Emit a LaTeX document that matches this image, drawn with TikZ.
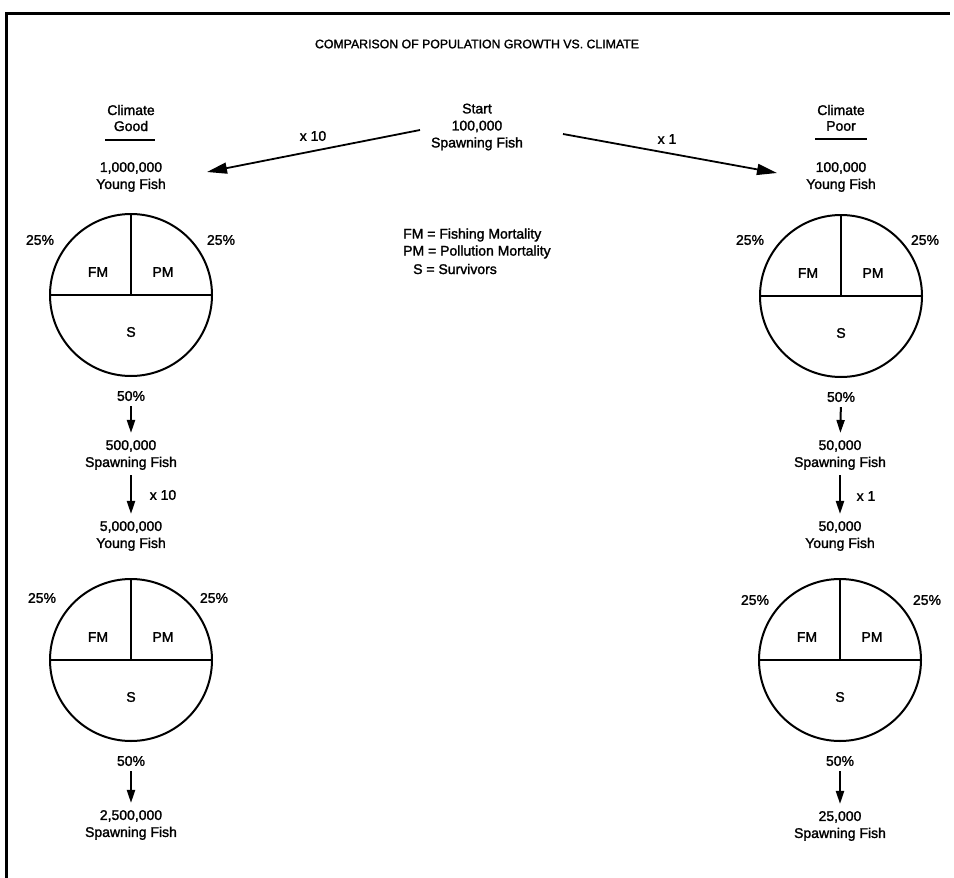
\documentclass[tikz,border=0pt]{standalone}
\usepackage{fontspec}
\setmainfont[UprightFeatures={FakeBold=1.6}]{Liberation Sans}
\usetikzlibrary{arrows.meta}
\begin{document}
\begin{tikzpicture}[x=1pt,y=-1pt,
  txt/.style={font=\fontsize{14}{17}\selectfont, align=center, inner sep=0pt},
  ttl/.style={font=\fontsize{12.3}{15}\selectfont, inner sep=0pt},
  bigarrow/.style={line width=1.8pt, -{Triangle[length=20pt,width=11pt]}},
  downarrow/.style={line width=2pt, -{Triangle[length=13pt,width=8pt]}, shorten <=5pt, shorten >=7pt},
  frameline/.style={line width=3pt},
  rule/.style={line width=1.6pt},
  pieline/.style={line width=2pt}]
\useasboundingbox (0,0) rectangle (954,878);
% frame
\coordinate (fa) at (6,878);
\coordinate (fb) at (6,13);
\coordinate (fc) at (950,13);
\draw[frameline] (fa) -- (fb) -- (fc);
% title
\node[ttl] (title) at (477,44) {COMPARISON OF POPULATION GROWTH VS. CLIMATE};
% headers
\node[txt] (cg1) at (131,110) {Climate};
\node[txt] (cg2) at (131,126) {Good};
\coordinate (ug1) at (105,140); \coordinate (ug2) at (155,140);
\draw[rule] (ug1) -- (ug2);
\node[txt] (cp1) at (841,110) {Climate};
\node[txt] (cp2) at (841,126) {Poor};
\coordinate (up1) at (815,139); \coordinate (up2) at (867,139);
\draw[rule] (up1) -- (up2);
% start
\node[txt] (start) at (477,127) {Start\\100,000\\Spawning Fish};
\coordinate (la) at (420,130); \coordinate (lb) at (207,172);
\coordinate (ra) at (563,134); \coordinate (rb) at (777,173);
\draw[bigarrow] (la) -- (lb);
\draw[bigarrow] (ra) -- (rb);
\node[txt] (m10) at (313,136) {x 10};
\node[txt] (m1) at (667,139) {x 1};
% legend
\node[txt, anchor=west] (lg1) at (403,235) {FM = Fishing Mortality};
\node[txt, anchor=west] (lg2) at (403,252) {PM = Pollution Mortality};
\node[txt, anchor=west] (lg3) at (413,269) {S = Survivors};
% population labels
\node[txt] (yf1) at (131,177) {1,000,000\\Young Fish};
\node[txt] (sp1) at (131,455) {500,000\\Spawning Fish};
\node[txt] (yf2) at (131,536) {5,000,000\\Young Fish};
\node[txt] (sp2) at (131,825) {2,500,000\\Spawning Fish};
\node[txt] (yf3) at (841,177) {100,000\\Young Fish};
\node[txt] (sp3) at (840,455) {50,000\\Spawning Fish};
\node[txt] (yf4) at (840,536) {50,000\\Young Fish};
\node[txt] (sp4) at (840,826) {25,000\\Spawning Fish};
% pies
\foreach \n/\cx/\cy/\ly/\lx/\rx in {gl1/131/295/240/40/221, gl2/131/660/598/42/214, pr1/841/296/240/750/925, pr2/840/660/600/755/927} {
  \node[circle, draw, line width=2pt, minimum size=162pt, inner sep=0pt] (\n) at (\cx,\cy) {};
  \draw[pieline] (\n.west) -- (\n.east);
  \draw[pieline] (\n.north) -- (\n.center);
  \node[txt] (\n-fm) at ({\cx-33},{\cy-23}) {FM};
  \node[txt] (\n-pm) at ({\cx+32},{\cy-23}) {PM};
  \node[txt] (\n-s) at (\cx,{\cy+37}) {S};
  \node[txt] (\n-l) at (\lx,\ly) {25\%};
  \node[txt] (\n-r) at (\rx,\ly) {25\%};
  \node[txt] (\n-b) at (\cx,{\cy+101}) {50\%};
}
% down arrows
\draw[downarrow] (gl1-b) -- (sp1);
\draw[downarrow] (sp1) -- (yf2);
\draw[downarrow] (gl2-b) -- (sp2);
\draw[downarrow] (pr1-b) -- (sp3);
\draw[downarrow] (sp3) -- (yf4);
\draw[downarrow] (pr2-b) -- (sp4);
\node[txt] (m10b) at (163,495) {x 10};
\node[txt] (m1b) at (866,496) {x 1};
\end{tikzpicture}
\end{document}
